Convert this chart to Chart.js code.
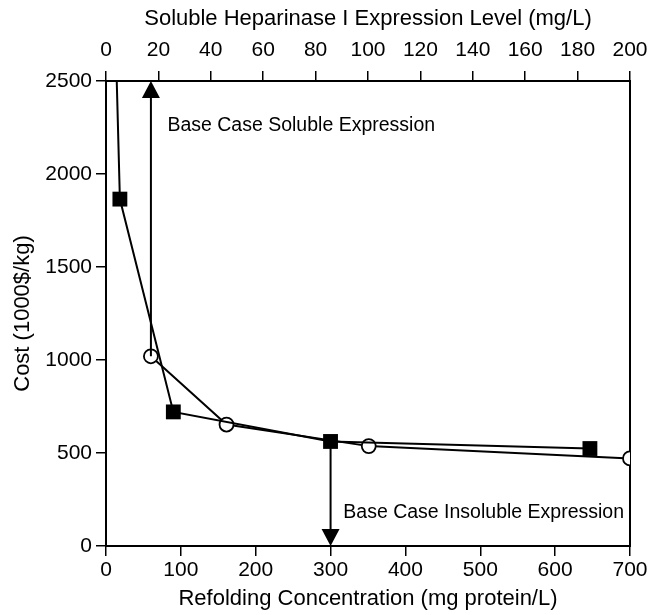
<!DOCTYPE html>
<html>
<head>
<meta charset="utf-8">
<script src="https://cdn.jsdelivr.net/npm/chart.js@4/dist/chart.umd.min.js"></script>
<style>
html, body { margin: 0; padding: 0; background: #fff; }
#wrap { width: 652px; height: 615px; }
</style>
</head>
<body>
<div id="wrap"><canvas id="costChart" width="652" height="615"></canvas></div>
<script>
// soluble expression level (top axis, mg/L) vs cost
var solubleLevel = [4.1, 5.3, 25.7, 85.7, 184.7];
var solubleCost  = [2500, 1865, 721, 562, 524];

// refolding concentration (bottom axis, mg protein/L) vs cost
var refoldConc = [60, 161, 351, 700];
var refoldCost = [1020, 653, 537, 471];

// base case arrows: [x on bottom axis, from cost, to cost]
var solubleArrow   = [60, 1020, 2500];
var insolubleArrow = [300, 562, 0];
var solubleLabel   = ['Base Case Soluble Expression', 82, 2260];
var insolubleLabel = ['Base Case Insoluble Expression', 317, 177];

var FONT = '"Liberation Sans", Arial, Helvetica, sans-serif';

function toPoints(xs, ys) {
    var out = [];
    for (var i = 0; i < xs.length; i++) out.push({x: xs[i], y: ys[i]});
    return out;
}

var arrowPlugin = {
    id: 'arrows',
    afterDatasetsDraw: function(chart) {
        var ctx = chart.ctx;
        var sx = chart.scales.x, sy = chart.scales.y;
        ctx.save();
        ctx.strokeStyle = '#000';
        ctx.fillStyle = '#000';
        ctx.lineWidth = 2;
        [solubleArrow, insolubleArrow].forEach(function(a) {
            var px = sx.getPixelForValue(a[0]);
            var y0 = sy.getPixelForValue(a[1]);
            var y1 = sy.getPixelForValue(a[2]);
            var dir = y1 < y0 ? 1 : -1;
            ctx.beginPath();
            ctx.moveTo(px, y0);
            ctx.lineTo(px, y1 + dir * 14);
            ctx.stroke();
            ctx.beginPath();
            ctx.moveTo(px, y1);
            ctx.lineTo(px - 9, y1 + dir * 17);
            ctx.lineTo(px + 9, y1 + dir * 17);
            ctx.closePath();
            ctx.fill();
        });
        ctx.font = '19.5px ' + FONT;
        ctx.textAlign = 'left';
        ctx.textBaseline = 'middle';
        [solubleLabel, insolubleLabel].forEach(function(l) {
            ctx.fillText(l[0], sx.getPixelForValue(l[1]), sy.getPixelForValue(l[2]));
        });
        ctx.restore();
    }
};

var tickFont = {family: FONT, size: 21};
var titleFont = {family: FONT, size: 22};
function plain(v) { return String(v); }

new Chart(document.getElementById('costChart'), {
    type: 'scatter',
    data: {
        datasets: [{
            label: 'soluble',
            data: toPoints(solubleLevel, solubleCost),
            xAxisID: 'x2',
            showLine: true,
            borderColor: '#000',
            backgroundColor: '#000',
            borderWidth: 2,
            pointStyle: 'rect',
            pointRadius: function(c) { return c.dataIndex === 0 ? 0 : 10.5; },
            pointBorderWidth: 0
        }, {
            label: 'refolding',
            data: toPoints(refoldConc, refoldCost),
            xAxisID: 'x',
            showLine: true,
            borderColor: '#000',
            backgroundColor: '#fff',
            borderWidth: 2,
            pointStyle: 'circle',
            pointRadius: 7,
            pointBorderWidth: 1.8
        }]
    },
    options: {
        responsive: false,
        animation: false,
        devicePixelRatio: 1,
        layout: {padding: {left: 0, right: 22, top: 0, bottom: 0}},
        plugins: {legend: {display: false}, tooltip: {enabled: false}},
        scales: {
            x: {
                type: 'linear', position: 'bottom', min: 0, max: 700,
                afterFit: function(s) { s.height = 69; s.paddingLeft = 0; s.paddingRight = 0; },
                ticks: {stepSize: 100, color: '#000', font: tickFont, padding: 2, maxRotation: 0, callback: plain},
                grid: {drawOnChartArea: false, tickLength: 10, color: '#000', lineWidth: 1.5},
                border: {color: '#000', width: 2},
                title: {display: true, text: 'Refolding Concentration (mg protein/L)', color: '#000', font: titleFont, padding: {top: 0, bottom: 3}}
            },
            x2: {
                type: 'linear', position: 'top', min: 0, max: 200,
                afterFit: function(s) { s.height = 81; s.paddingLeft = 0; s.paddingRight = 0; },
                ticks: {stepSize: 20, color: '#000', font: tickFont, padding: 8, maxRotation: 0, callback: plain},
                grid: {drawOnChartArea: false, tickLength: 10, color: '#000', lineWidth: 1.5},
                border: {color: '#000', width: 2},
                title: {display: true, text: 'Soluble Heparinase I Expression Level (mg/L)', color: '#000', font: titleFont, padding: {top: 6, bottom: 0}}
            },
            y: {
                type: 'linear', position: 'left', min: 0, max: 2500,
                afterFit: function(s) { s.width = 106; },
                ticks: {stepSize: 500, color: '#000', font: tickFont, padding: 4, callback: plain},
                grid: {drawOnChartArea: false, tickLength: 10, color: '#000', lineWidth: 1.5},
                border: {color: '#000', width: 2},
                title: {display: true, text: 'Cost (1000$/kg)', color: '#000', font: titleFont, padding: {top: 10, bottom: 0}}
            },
            y2: {
                type: 'linear', position: 'right', min: 0, max: 2500,
                afterFit: function(s) { s.width = 0; },
                ticks: {display: false},
                grid: {display: false},
                border: {color: '#000', width: 2}
            }
        }
    },
    plugins: [arrowPlugin]
});
</script>
</body>
</html>
